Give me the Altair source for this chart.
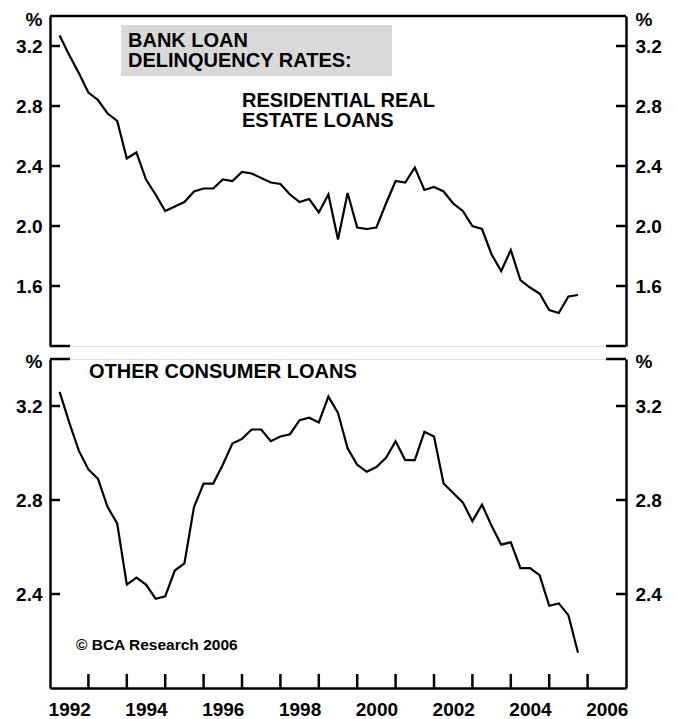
import altair as alt
import pandas as pd

# ---------------- data ----------------
quarters = [1992.25 + 0.25 * i for i in range(55)]

residential = [3.27, 3.14, 3.02, 2.89, 2.84, 2.75, 2.70, 2.45, 2.49, 2.31,
               2.21, 2.10, 2.13, 2.16, 2.23, 2.25, 2.25, 2.31, 2.30, 2.36,
               2.35, 2.32, 2.29, 2.28, 2.21, 2.16, 2.18, 2.09, 2.21, 1.91,
               2.22, 1.99, 1.98, 1.99, 2.15, 2.30, 2.29, 2.39, 2.24, 2.26,
               2.23, 2.15, 2.10, 2.00, 1.98, 1.81, 1.70, 1.84, 1.64, 1.59,
               1.55, 1.44, 1.42, 1.53, 1.54]

consumer = [3.26, 3.13, 3.01, 2.93, 2.89, 2.77, 2.70, 2.44, 2.47, 2.44,
            2.38, 2.39, 2.50, 2.53, 2.77, 2.87, 2.87, 2.95, 3.04, 3.06,
            3.10, 3.10, 3.05, 3.07, 3.08, 3.14, 3.15, 3.13, 3.24, 3.17,
            3.02, 2.95, 2.92, 2.94, 2.98, 3.05, 2.97, 2.97, 3.09, 3.07,
            2.87, 2.83, 2.79, 2.71, 2.78, 2.69, 2.61, 2.62, 2.51, 2.51,
            2.48, 2.35, 2.36, 2.31, 2.15]

top_ticks = [1.6, 2.0, 2.4, 2.8, 3.2]
bottom_ticks = [2.4, 2.8, 3.2]
year_ticks = list(range(1993, 2007))
year_values = list(range(1992, 2007))

title_lines = ["BANK LOAN", "DELINQUENCY RATES:"]
top_label = ["RESIDENTIAL REAL", "ESTATE LOANS"]
bottom_label = "OTHER CONSUMER LOANS"
credit = "© BCA Research 2006"

# ---------------- layout / style ----------------
W = 576
H_TOP = 330
H_BOT = 329
FONT = "Liberation Sans"
FS = 19
TICK = 10
BLACK = "black"

df_top = pd.DataFrame({"t": quarters, "v": residential})
df_bot = pd.DataFrame({"t": quarters, "v": consumer})
one = pd.DataFrame({"k": [0]})

x_scale = alt.Scale(domain=[1992, 2007], nice=False, zero=False)
y_top_scale = alt.Scale(domain=[1.2, 3.4], nice=False, zero=False)
y_bot_scale = alt.Scale(domain=[2.0, 3.4], nice=False, zero=False)


def yaxis(orient, values, title_y):
    return alt.Axis(
        orient=orient, values=values, format=".1f", ticks=False, grid=False,
        domainColor=BLACK, domainWidth=2.5,
        labelFont=FONT, labelFontSize=FS, labelFontWeight="bold",
        labelColor=BLACK, labelPadding=8 if orient == "left" else 9,
        title="%", titleAngle=0, titleFont=FONT, titleFontSize=FS,
        titleFontWeight="bold", titleColor=BLACK,
        titleX=-16.5 if orient == "left" else 17.5, titleY=title_y,
        titleAlign="center", titleBaseline="alphabetic",
    )


def panel(df, y_scale, ticks, height, title_y, x_axis):
    line = alt.Chart(df).mark_line(color=BLACK, strokeWidth=2.2).encode(
        x=alt.X("t:Q", scale=x_scale, axis=x_axis),
        y=alt.Y("v:Q", scale=y_scale, axis=yaxis("left", ticks, title_y)),
    )
    tdf = pd.DataFrame({"v": ticks})
    left_ticks = alt.Chart(tdf).mark_rule(color=BLACK, strokeWidth=2.5).encode(
        y=alt.Y("v:Q", scale=y_scale, axis=None),
        x=alt.value(0), x2=alt.value(TICK),
    )
    right_ticks = alt.Chart(tdf).mark_rule(color=BLACK, strokeWidth=2.5).encode(
        y=alt.Y("v:Q", scale=y_scale, axis=yaxis("right", ticks, title_y)),
        x=alt.value(W - TICK), x2=alt.value(W),
    )
    return [line, left_ticks, right_ticks]


def hrule(x0, x1, y):
    return alt.Chart(one).mark_rule(color=BLACK, strokeWidth=2.5).encode(
        x=alt.value(x0), x2=alt.value(x1), y=alt.value(y)
    )


def label(text, x, y, size=20):
    return alt.Chart(one).mark_text(
        text=text, align="left", baseline="alphabetic", font=FONT,
        fontSize=size, fontWeight="bold", color=BLACK, lineHeight=20,
    ).encode(x=alt.value(x), y=alt.value(y))


# ---------------- top panel ----------------
title_box = alt.Chart(one).mark_rect(color="#d9d9d9").encode(
    x=alt.value(71), x2=alt.value(342), y=alt.value(9), y2=alt.value(60)
)

top = alt.layer(
    title_box,
    *panel(df_top, y_top_scale, top_ticks, H_TOP, 9, None),
    hrule(0, W, 0),
    hrule(0, 20, H_TOP),
    hrule(W - 20, W, H_TOP),
    label(title_lines, 78, 31),
    label(top_label, 192, 91),
).resolve_axis(x="independent", y="independent").properties(width=W, height=H_TOP)

# ---------------- bottom panel ----------------
x_axis = alt.Axis(
    orient="bottom", values=year_values, format="d",
    labelExpr="datum.value % 2 == 0 ? datum.label : ''",
    labelOffset=19.2, labelFlush=False, labelOverlap=False, labelBound=False,
    ticks=False, grid=False, domainColor=BLACK, domainWidth=2.5,
    labelFont=FONT, labelFontSize=FS, labelFontWeight="bold", labelColor=BLACK,
    labelPadding=12, title=None,
)

x_ticks = alt.Chart(pd.DataFrame({"yr": year_ticks})).mark_rule(
    color=BLACK, strokeWidth=2.5
).encode(
    x=alt.X("yr:Q", scale=x_scale, axis=None),
    y=alt.value(H_BOT - 14), y2=alt.value(H_BOT),
)

bottom = alt.layer(
    *panel(df_bot, y_bot_scale, bottom_ticks, H_BOT, 8, x_axis),
    x_ticks,
    hrule(0, 20, 0),
    hrule(W - 20, W, 0),
    label(bottom_label, 39, 19),
    label(credit, 26, 291, size=15.5),
).resolve_axis(x="independent", y="independent").properties(width=W, height=H_BOT)

chart = alt.vconcat(top, bottom, spacing=13, bounds="flush").properties(
    padding={"left": 7, "top": 1, "right": 5, "bottom": 0}
).configure_view(stroke=None).configure(background="white")

chart.save("out.html", embed_options={"renderer": "svg", "actions": False})
